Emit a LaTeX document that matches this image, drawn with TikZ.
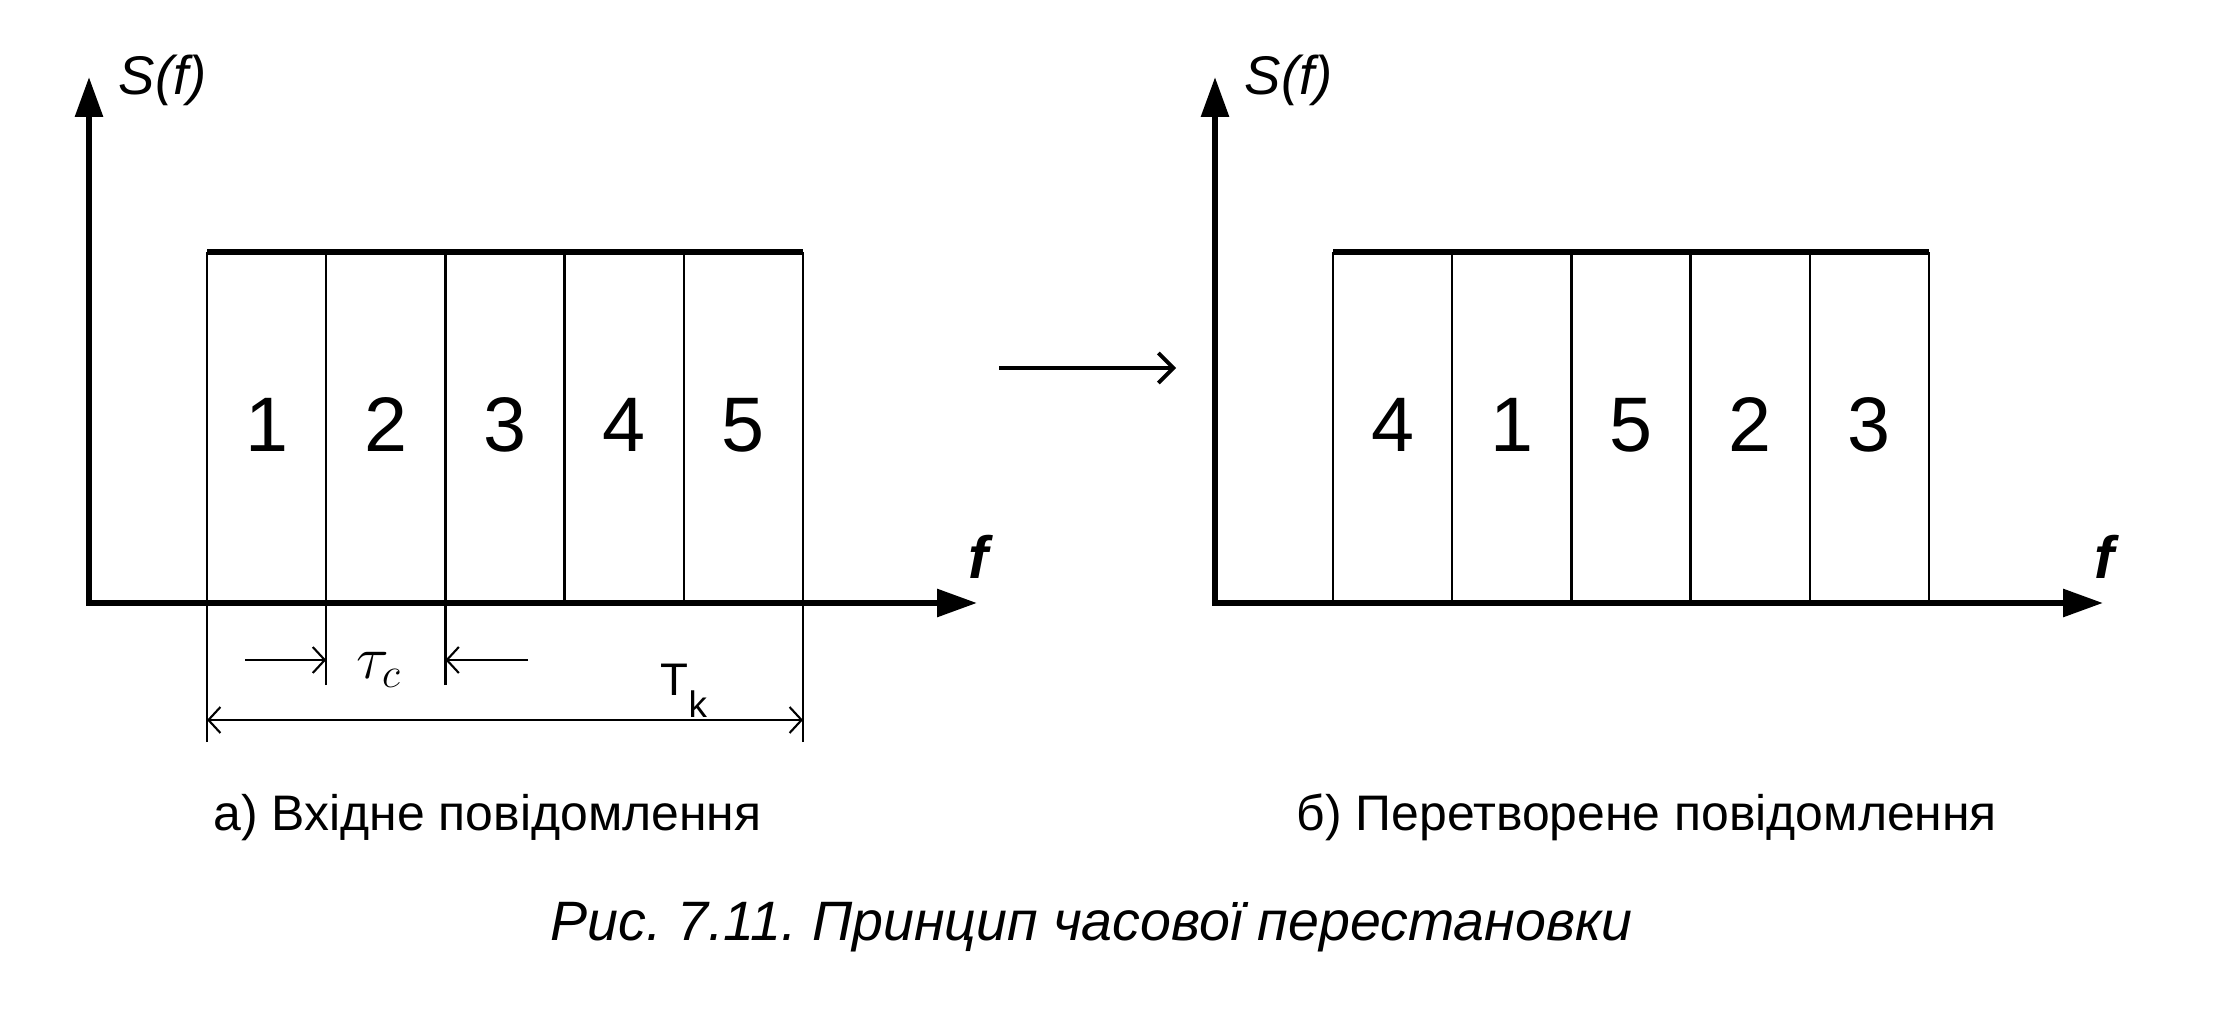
\documentclass[tikz,border=0pt]{standalone}
\usepackage{fontspec}
\setmainfont{Liberation Sans}
\usetikzlibrary{positioning,
        arrows.meta}
\frenchspacing

\tikzset{
    axis/.style={line width=1.7pt,
        {Triangle[length=4mm,width=2.7mm]}-{Triangle[length=4mm,width=2.7mm]}},
    cellline/.style={line width=0.7pt},
    topline/.style={line width=1.8pt},
    dimline/.style={line width=0.6pt},
    barbtip/.style={-{Straight Barb[length=1.2mm,width=2.6mm]}},
    digit/.style={inner sep=0pt,font=\fontsize{22}{24}\selectfont},
    axlabel/.style={inner sep=0pt,font=\itshape\fontsize{15.5}{17}\selectfont},
    flabel/.style={inner sep=0pt,font=\bfseries\itshape\fontsize{17}{19}\selectfont},
    caption/.style={inner sep=0pt,anchor=base west,font=\fontsize{14.2}{16}\selectfont}
}

\begin{document}
\begin{tikzpicture}
            \useasboundingbox (0,0) rectangle (22.2,10.1);

            % a) input message
            \coordinate (OA) at (0.89,4.07);
            \coordinate (YA) at (0.89,9.33);
            \coordinate (XA) at (9.77,4.07);
            \draw [axis] (YA) -- (OA) -- (XA);
            \node [axlabel,anchor=west] (SA) at (1.18,9.30) {S(f)};
            \node [flabel] (fA) at (9.78,4.53) {f};

            \draw [cellline] (2.07,2.68) -- (2.07,7.58);
            \draw [cellline] (3.262,3.25) -- (3.262,7.58);
            \draw [cellline] (4.454,3.25) -- (4.454,7.58);
            \draw [cellline] (5.646,4.07) -- (5.646,7.58);
            \draw [cellline] (6.838,4.07) -- (6.838,7.58);
            \draw [cellline] (8.03,2.68) -- (8.03,7.58);
            \draw [topline] (2.07,7.58) -- (8.03,7.58);

            \node [digit] (in1) at (2.666,5.85) {1};
            \node [digit] (in2) at (3.858,5.85) {2};
            \node [digit] (in3) at (5.05,5.85) {3};
            \node [digit] (in4) at (6.242,5.85) {4};
            \node [digit] (in5) at (7.434,5.85) {5};

            % dimensions
            \coordinate (tauL) at (2.45,3.50);
            \coordinate (tauA) at (3.262,3.50);
            \coordinate (tauR) at (5.28,3.50);
            \coordinate (tauB) at (4.454,3.50);
            \draw [dimline,barbtip] (tauL) -- (tauA);
            \draw [dimline,barbtip] (tauR) -- (tauB);
            \node [inner sep=0pt,font=\fontsize{18}{20}\selectfont] (tau) at (3.79,3.40) {$\tau_c$};

            \coordinate (TkL) at (2.07,2.90);
            \coordinate (TkR) at (8.03,2.90);
            \draw [dimline,{Straight Barb[length=1.2mm,width=2.6mm]}-{Straight Barb[length=1.2mm,width=2.6mm]}] (TkL) -- (TkR);
            \node [inner sep=0pt,anchor=base west,font=\fontsize{13}{15}\selectfont] (Tk) at (6.60,3.15)
                {T\raisebox{-0.22cm}{\fontsize{10.5}{12}\selectfont k}};

            % transition
            \coordinate (mA) at (9.99,6.42);
            \coordinate (mB) at (11.76,6.42);
            \draw [line width=1.1pt,-{Straight Barb[length=1.5mm,width=3mm]}] (mA) -- (mB);

            % b) transformed message
            \coordinate (OB) at (12.15,4.07);
            \coordinate (YB) at (12.15,9.33);
            \coordinate (XB) at (21.03,4.07);
            \draw [axis] (YB) -- (OB) -- (XB);
            \node [axlabel,anchor=west] (SB) at (12.44,9.30) {S(f)};
            \node [flabel] (fB) at (21.04,4.53) {f};

            \draw [cellline] (13.33,4.07) -- (13.33,7.58);
            \draw [cellline] (14.522,4.07) -- (14.522,7.58);
            \draw [cellline] (15.714,4.07) -- (15.714,7.58);
            \draw [cellline] (16.906,4.07) -- (16.906,7.58);
            \draw [cellline] (18.098,4.07) -- (18.098,7.58);
            \draw [cellline] (19.29,4.07) -- (19.29,7.58);
            \draw [topline] (13.33,7.58) -- (19.29,7.58);

            \node [digit] (out4) at (13.926,5.85) {4};
            \node [digit] (out1) at (15.118,5.85) {1};
            \node [digit] (out5) at (16.31,5.85) {5};
            \node [digit] (out2) at (17.502,5.85) {2};
            \node [digit] (out3) at (18.694,5.85) {3};

            % captions
            \node [caption] (capA) at (2.13,1.80) {а) Вхідне повідомлення};
            \node [caption] (capB) at (12.96,1.80) {б) Перетворене повідомлення};
            \node [caption,font=\itshape\fontsize{15.8}{18}\selectfont] (fig) at (5.50,0.70)
                {Рис. 7.11. Принцип часової перестановки};
        \end{tikzpicture}
\end{document}
